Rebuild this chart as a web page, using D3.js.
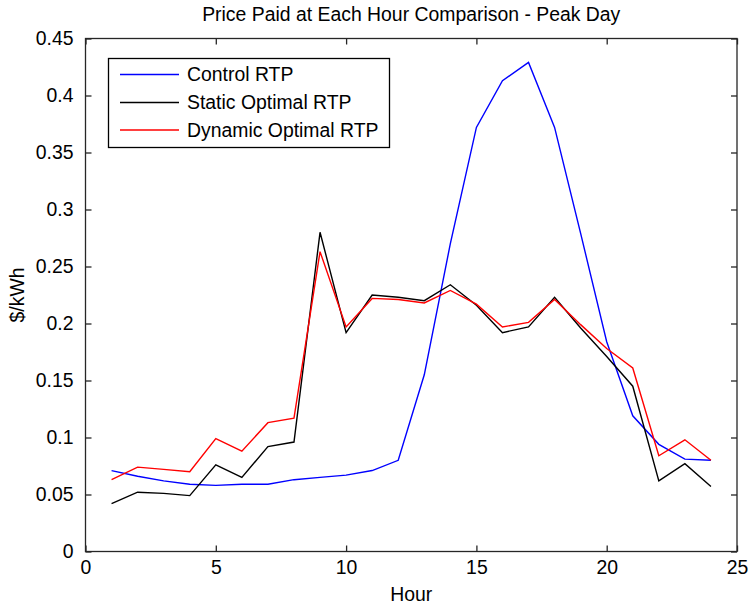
<!DOCTYPE html>
<html><head><meta charset="utf-8">
<script src="https://cdn.jsdelivr.net/npm/d3@7"></script>
<style>body{margin:0;background:#fff}svg{display:block}text{font-family:"Liberation Sans",Arial,sans-serif;fill:#000}</style>
</head><body>
<svg id="c" width="750" height="610"></svg>
<script>
const hours = [1,2,3,4,5,6,7,8,9,10,11,12,13,14,15,16,17,18,19,20,21,22,23,24];
const controlRTP = [0.071,0.066,0.062,0.059,0.058,0.059,0.059,0.063,0.065,0.067,0.071,0.080,0.155,0.270,0.372,0.413,0.429,0.372,0.279,0.184,0.119,0.094,0.081,0.080];
const staticRTP  = [0.042,0.052,0.051,0.049,0.076,0.065,0.092,0.096,0.280,0.192,0.225,0.223,0.220,0.234,0.216,0.192,0.197,0.223,0.196,0.171,0.145,0.062,0.077,0.057];
const dynamicRTP = [0.063,0.074,0.072,0.070,0.099,0.088,0.113,0.117,0.263,0.197,0.222,0.221,0.218,0.229,0.217,0.197,0.201,0.221,0.199,0.178,0.161,0.084,0.098,0.080];
const seriesNames = ["Control RTP","Static Optimal RTP","Dynamic Optimal RTP"];
const seriesColors = ["#0000ff","#000000","#ff0000"];
const xTicks = [0,5,10,15,20,25];
const yTicks = [0,0.05,0.1,0.15,0.2,0.25,0.3,0.35,0.4,0.45];
const titleText = "Price Paid at Each Hour Comparison - Peak Day";
const xLabel = "Hour", yLabel = "$/kWh";

const svg = d3.select("#c");
const L=85.5, R=737, T=38.5, B=551.5;
const x = d3.scaleLinear().domain([0,25]).range([L,R]);
const y = d3.scaleLinear().domain([0,0.45]).range([B,T]);
const fs = 19.4;

svg.append("rect").attr("x",L).attr("y",T).attr("width",R-L).attr("height",B-T)
  .attr("fill","#fff").attr("stroke","#262626").attr("stroke-width",1.3);

const tl = 6;
const gx = svg.append("g").attr("transform",`translate(0,${B})`)
  .call(d3.axisBottom(x).tickValues(xTicks).tickFormat(d3.format("d")).tickSize(-tl).tickPadding(9));
const gxt = svg.append("g").attr("transform",`translate(0,${T})`)
  .call(d3.axisTop(x).tickValues(xTicks).tickFormat("").tickSize(-tl));
const gy = svg.append("g").attr("transform",`translate(${L},0)`)
  .call(d3.axisLeft(y).tickValues(yTicks).tickFormat(d=>d3.format("")(+d.toFixed(2))).tickSize(-tl).tickPadding(12));
const gyr = svg.append("g").attr("transform",`translate(${R},0)`)
  .call(d3.axisRight(y).tickValues(yTicks).tickFormat("").tickSize(-tl));
[gx,gxt,gy,gyr].forEach(g=>{
  g.select(".domain").remove();
  g.selectAll(".tick line").attr("stroke","#262626").attr("stroke-width",1.3);
  g.selectAll("text").attr("font-size",fs).attr("font-family","Liberation Sans, Arial, sans-serif").attr("fill","#000");
});
gx.selectAll(".tick text").attr("dy","0.71em");

const allSeries = [controlRTP, staticRTP, dynamicRTP];
const line = d3.line().x((d,i)=>x(hours[i])).y(d=>y(d));
allSeries.forEach((s,k)=>{
  svg.append("path").datum(s).attr("d",line).attr("fill","none")
    .attr("stroke",seriesColors[k]).attr("stroke-width",1.4).attr("stroke-linejoin","miter");
});

svg.append("text").attr("x",(L+R)/2).attr("y",21).attr("text-anchor","middle").attr("font-size",fs).text(titleText);
svg.append("text").attr("x",(L+R)/2).attr("y",601).attr("text-anchor","middle").attr("font-size",fs).text(xLabel);
svg.append("text").attr("transform",`translate(24,${(T+B)/2}) rotate(-90)`).attr("text-anchor","middle").attr("font-size",fs).text(yLabel);

const lg = svg.append("g");
lg.append("rect").attr("x",108.5).attr("y",58.5).attr("width",281).attr("height",89)
  .attr("fill","#fff").attr("stroke","#000").attr("stroke-width",1.3);
const rowsY = [74.5,102.5,130];
seriesNames.forEach((n,k)=>{
  lg.append("line").attr("x1",120).attr("x2",179).attr("y1",rowsY[k]).attr("y2",rowsY[k])
    .attr("stroke",seriesColors[k]).attr("stroke-width",1.4);
  lg.append("text").attr("x",187).attr("y",rowsY[k]).attr("dy","0.35em").attr("font-size",fs).text(n);
});
</script>
</body></html>
